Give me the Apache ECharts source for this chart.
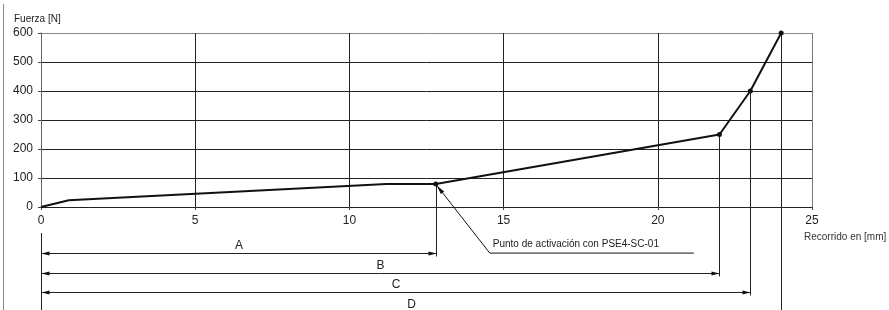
<!DOCTYPE html>
<html>
<head>
<meta charset="utf-8">
<script src="https://cdn.jsdelivr.net/npm/echarts@6/dist/echarts.min.js"></script>
<style>
html, body { margin: 0; padding: 0; background: #fff; }
#chart { width: 889px; height: 310px; }
</style>
</head>
<body>
<div id="chart"></div>
<script>
// curva fuerza / recorrido
var recorrido = [0, 0.9, 11.2, 12.8, 22, 23, 24];
var fuerza = [0, 23, 79, 79, 250, 400, 600];
var xTicks = [0, 5, 10, 15, 20, 25];
var yTicks = [0, 100, 200, 300, 400, 500, 600];

// cotas A..D (fin en mm, fuerza en ese punto)
var cotas = ['A', 'B', 'C', 'D'];
var cotaFin = [12.8, 22, 23, 24];
var cotaFuerza = [79, 250, 400, 600];

var activacion = [12.8, 79];
var activacionTexto = 'Punto de activación con PSE4-SC-01';

var FONT = '"Liberation Sans", Arial, sans-serif';
var chart = echarts.init(document.getElementById('chart'));

function px(v) { return Math.round(v) + 0.5; }

function flecha(tip, dir) {
    // triangulo relleno, dir = +1 hacia la derecha, -1 hacia la izquierda
    return {
        type: 'polygon',
        shape: { points: [[tip[0], tip[1]], [tip[0] - dir * 8, tip[1] - 2], [tip[0] - dir * 8, tip[1] + 2]] },
        style: { fill: '#111' }
    };
}

var cotaData = cotas.map(function (c, i) { return [cotaFin[i], cotaFuerza[i], i]; });

var option = {
    animation: false,
    textStyle: { fontFamily: FONT },
    grid: { left: 41, top: 33, width: 771, height: 174 },
    xAxis: {
        type: 'value', min: xTicks[0], max: xTicks[xTicks.length - 1], interval: 5,
        axisLine: { lineStyle: { color: '#222', width: 1 } },
        axisTick: { show: true, length: 3, lineStyle: { color: '#444' } },
        axisLabel: { margin: 8, color: '#222', fontSize: 12, fontFamily: FONT },
        splitLine: { show: true, lineStyle: { color: ['#777', '#222', '#222', '#222', '#222', '#777'], width: 1 } }
    },
    yAxis: {
        type: 'value', min: yTicks[0], max: yTicks[yTicks.length - 1], interval: 100,
        axisLine: { show: true, lineStyle: { color: '#666', width: 1 } },
        axisTick: { show: true, length: 3, lineStyle: { color: '#444' } },
        axisLabel: { margin: 8, color: '#222', fontSize: 12, fontFamily: FONT },
        splitLine: { show: true, lineStyle: { color: ['#222', '#222', '#222', '#222', '#222', '#222', '#888'], width: 1 } }
    },
    graphic: [
        { type: 'line', shape: { x1: 3.5, y1: 4, x2: 3.5, y2: 310 }, style: { stroke: '#888', lineWidth: 1 } },
        { type: 'text', left: 14, top: 14, style: { text: 'Fuerza [N]', fontSize: 10, fontFamily: FONT, fill: '#222' } },
        { type: 'text', left: 804, top: 232, style: { text: 'Recorrido en [mm]', fontSize: 10, fontFamily: FONT, fill: '#333' } }
    ],
    series: [
        {
            // lineas de cota debajo del grafico
            type: 'custom',
            clip: false,
            z: 1,
            data: cotaData,
            renderItem: function (params, api) {
                var i = api.value(2);
                var x = api.value(0);
                var p = api.coord([x, api.value(1)]);
                var o = api.coord([0, 0]);
                var rowY = px(o[1] + 46 + i * 19.5);
                var xe = px(p[0]);
                var xo = px(o[0]);
                var children = [
                    { type: 'line', shape: { x1: xe, y1: p[1], x2: xe, y2: rowY + 3 }, style: { stroke: '#222', lineWidth: 1 } },
                    { type: 'line', shape: { x1: xo, y1: rowY, x2: xe, y2: rowY }, style: { stroke: '#222', lineWidth: 1 } },
                    flecha([xo, rowY], -1),
                    flecha([xe, rowY], 1),
                    {
                        type: 'text',
                        style: {
                            text: cotas[i], x: (xo + xe) / 2, y: rowY - 2,
                            align: 'center', verticalAlign: 'bottom',
                            fontSize: 12, fontFamily: FONT, fill: '#222'
                        }
                    }
                ];
                if (i === 0) {
                    children.push({ type: 'line', shape: { x1: xo, y1: o[1] + 26, x2: xo, y2: 312 }, style: { stroke: '#222', lineWidth: 1 } });
                }
                return { type: 'group', children: children };
            }
        },
        {
            type: 'line',
            z: 3,
            data: recorrido.map(function (x, i) { return [x, fuerza[i]]; }),
            symbol: 'circle',
            symbolSize: function (v, params) { return params.dataIndex >= 3 ? 5 : 0; },
            itemStyle: { color: '#111' },
            lineStyle: { color: '#111', width: 2 }
        },
        {
            // indicador punto de activacion
            type: 'custom',
            clip: false,
            z: 4,
            data: [activacion],
            renderItem: function (params, api) {
                var p = api.coord([api.value(0), api.value(1)]);
                var end = [p[0] + 54, p[1] + 69];
                var len = Math.sqrt(54 * 54 + 69 * 69);
                var d = [54 / len, 69 / len];
                var n = [-d[1], d[0]];
                var tip = [p[0] + d[0] * 2, p[1] + d[1] * 2];
                var b = [tip[0] + d[0] * 9, tip[1] + d[1] * 9];
                return {
                    type: 'group',
                    children: [
                        { type: 'polyline', shape: { points: [tip, end, [end[0] + 204, end[1]]] }, style: { stroke: '#111', lineWidth: 1, fill: null } },
                        { type: 'polygon', shape: { points: [tip, [b[0] + n[0] * 2.2, b[1] + n[1] * 2.2], [b[0] - n[0] * 2.2, b[1] - n[1] * 2.2]] }, style: { fill: '#111' } },
                        {
                            type: 'text',
                            style: {
                                text: activacionTexto, x: end[0] + 3, y: end[1] - 4,
                                align: 'left', verticalAlign: 'bottom',
                                fontSize: 10, fontFamily: FONT, fill: '#222'
                            }
                        }
                    ]
                };
            }
        }
    ]
};

chart.setOption(option);
</script>
</body>
</html>
